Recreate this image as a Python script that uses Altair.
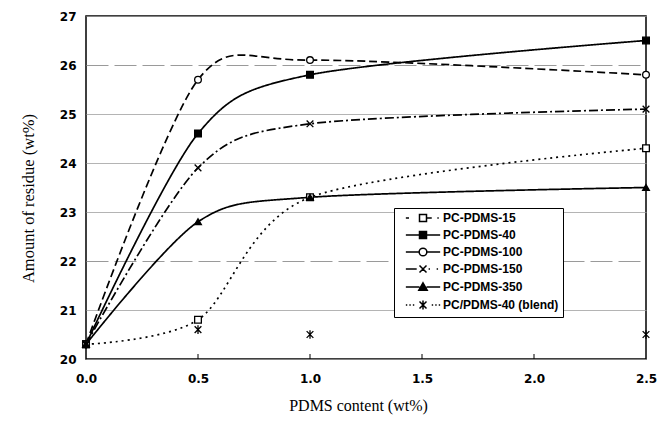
import altair as alt
import pandas as pd

# ---- data ----
x_vals = [0.0, 0.5, 1.0, 2.5]
series = ["PC-PDMS-15", "PC-PDMS-40", "PC-PDMS-100", "PC-PDMS-150",
          "PC-PDMS-350", "PC/PDMS-40 (blend)"]
pdms15 = [20.3, 20.8, 23.3, 24.3]
pdms40 = [20.3, 24.6, 25.8, 26.5]
pdms100 = [20.3, 25.7, 26.1, 25.8]
pdms150 = [20.3, 23.9, 24.8, 25.1]
pdms350 = [20.3, 22.8, 23.3, 23.5]
blend = [20.3, 20.6, 20.5, 20.5]
y_ticks = [20, 21, 22, 23, 24, 25, 26, 27]
x_ticks = [0.0, 0.5, 1.0, 1.5, 2.0, 2.5]
inner_ticks = [0.5, 1.0, 1.5, 2.0]

values = [pdms15, pdms40, pdms100, pdms150, pdms350, blend]
rows = []
for s, vals in zip(series, values):
    for xv, yv in zip(x_vals, vals):
        rows.append({"series": s, "x": xv, "y": yv})
df = pd.DataFrame(rows)
df_lines = df[df["series"] != series[-1]]
df_ticks = pd.DataFrame({"x": inner_ticks})

# ---- styles ----
line_series = series[:5]
dashes = [[2, 4], [1, 0], [8, 4], [9, 3, 2, 3], [1, 0]]

x_path = "M-1,-1L1,1M-1,1L1,-1"
ast_path = "M-1,-1L1,1M-1,1L1,-1M0,-1.3V1.3"
point_shapes = ["square", "square", "circle", x_path, "triangle-up", ast_path]
fills = ["white", "black", "white", "black", "black", "black"]
strokes = ["black"] * 6

legend_shapes = [
    "M-4.9,0H-4M1.1,0H2.5M4.1,0H4.5M-1,-1H1V1H-1Z",
    "M-4.9,0H-1M1,0H4.9M-1,-1H1V1H-1Z",
    "M-4.9,0H-1.1M1.1,0H4.9M-1.1,0A1.1,1.1 0 1,1 1.1,0A1.1,1.1 0 1,1 -1.1,0Z",
    "M-4.9,0H-1.8M-1,-1L1,1M-1,1L1,-1M1.6,0H2M3.9,0H4.3",
    "M-4.9,0H-1M1,0H4.9M0,-1.2L1.2,0.9H-1.2Z",
    "M-4.9,0H-4.5M-3.9,0H-3.5M-2.9,0H-2.5M2.5,0H2.9M3.5,0H3.9M4.5,0H4.9"
    "M-1,-1L1,1M-1,1L1,-1M0,-1.3V1.3",
]

x_scale = alt.Scale(domain=[0, 2.5], nice=False)
y_scale = alt.Scale(domain=[20, 27], nice=False, zero=False)

x_axis = alt.Axis(values=x_ticks, format=".1f", title="PDMS content (wt%)",
                  grid=False, ticks=False, domain=False, labelPadding=14,
                  labelFlush=False,
                  labelFont="DejaVu Sans", labelFontWeight="bold", labelFontSize=12,
                  labelColor="black", titleFont="Liberation Serif", titleFontSize=16,
                  titleFontWeight="normal", titleColor="black",
                  titleX=272, titleY=46, titleBaseline="middle")
y_axis = alt.Axis(values=y_ticks, format="d", title="Amount of residue  (wt%)",
                  grid=True, gridColor="#9a9a9a", gridWidth=1,
                  gridDash={"condition": {"test": "datum.value == 22 || datum.value == 26",
                                          "value": [22, 6]}, "value": [1, 0]},
                  ticks=False, domain=False, labelPadding=10, labelFlush=False,
                  labelFont="DejaVu Sans", labelFontWeight="bold", labelFontSize=12,
                  labelColor="black", titleFont="Liberation Serif", titleFontSize=16.5,
                  titleFontWeight="normal", titleColor="black",
                  titleX=-58, titleY=182, titleBaseline="middle")

base = alt.Chart(df)

lines = alt.Chart(df_lines).mark_line(interpolate="cardinal", tension=0.15, color="black",
                                       strokeWidth=1.7).encode(
    x=alt.X("x:Q", scale=x_scale, axis=x_axis),
    y=alt.Y("y:Q", scale=y_scale, axis=y_axis),
    strokeDash=alt.StrokeDash("series:N", scale=alt.Scale(domain=line_series, range=dashes),
                              legend=None),
)

points = base.mark_point(filled=True, stroke="black", strokeWidth=1.3, size=45,
                         opacity=1).encode(
    x=alt.X("x:Q", scale=x_scale),
    y=alt.Y("y:Q", scale=y_scale),
    shape=alt.Shape("series:N", scale=alt.Scale(domain=series, range=point_shapes),
                    legend=None),
    fill=alt.Fill("series:N", scale=alt.Scale(domain=series, range=fills), legend=None),
)

leg = alt.Legend(title=None, orient="none", legendX=308, legendY=192,
                 fillColor="white", strokeColor="black", padding=4,
                 symbolOffset=19, labelOffset=14, rowPadding=3,
                 symbolStrokeWidth=1.5, symbolSize=49,
                 labelFont="Liberation Sans", labelFontWeight="bold",
                 labelFontSize=12, labelColor="black", labelLimit=200)

legend_layer = base.transform_filter("false").mark_point(
    filled=True, strokeWidth=1.5, size=49, opacity=1).encode(
    x=alt.X("x:Q", scale=x_scale),
    y=alt.Y("y:Q", scale=y_scale),
    shape=alt.Shape("series:N", scale=alt.Scale(domain=series, range=legend_shapes),
                    legend=leg),
    fill=alt.Fill("series:N", scale=alt.Scale(domain=series, range=fills), legend=leg),
    stroke=alt.Stroke("series:N", scale=alt.Scale(domain=series, range=strokes),
                      legend=leg),
)

ticks = alt.Chart(df_ticks).mark_rule(color="black", strokeWidth=1).encode(
    x=alt.X("x:Q", scale=x_scale),
    y=alt.value(343),
    y2=alt.value(338),
)

chart = alt.layer(lines, points, ticks, legend_layer).resolve_scale(
    shape="independent", fill="independent", strokeDash="independent",
    stroke="independent"
).properties(
    width=560, height=343,
    padding={"left": 86, "top": 16, "right": 16, "bottom": 69},
    autosize=alt.AutoSizeParams(type="none"),
    background="white",
).configure_view(stroke="black", strokeWidth=1.5)

chart.save("out.html", embed_options={"renderer": "svg", "actions": False})
